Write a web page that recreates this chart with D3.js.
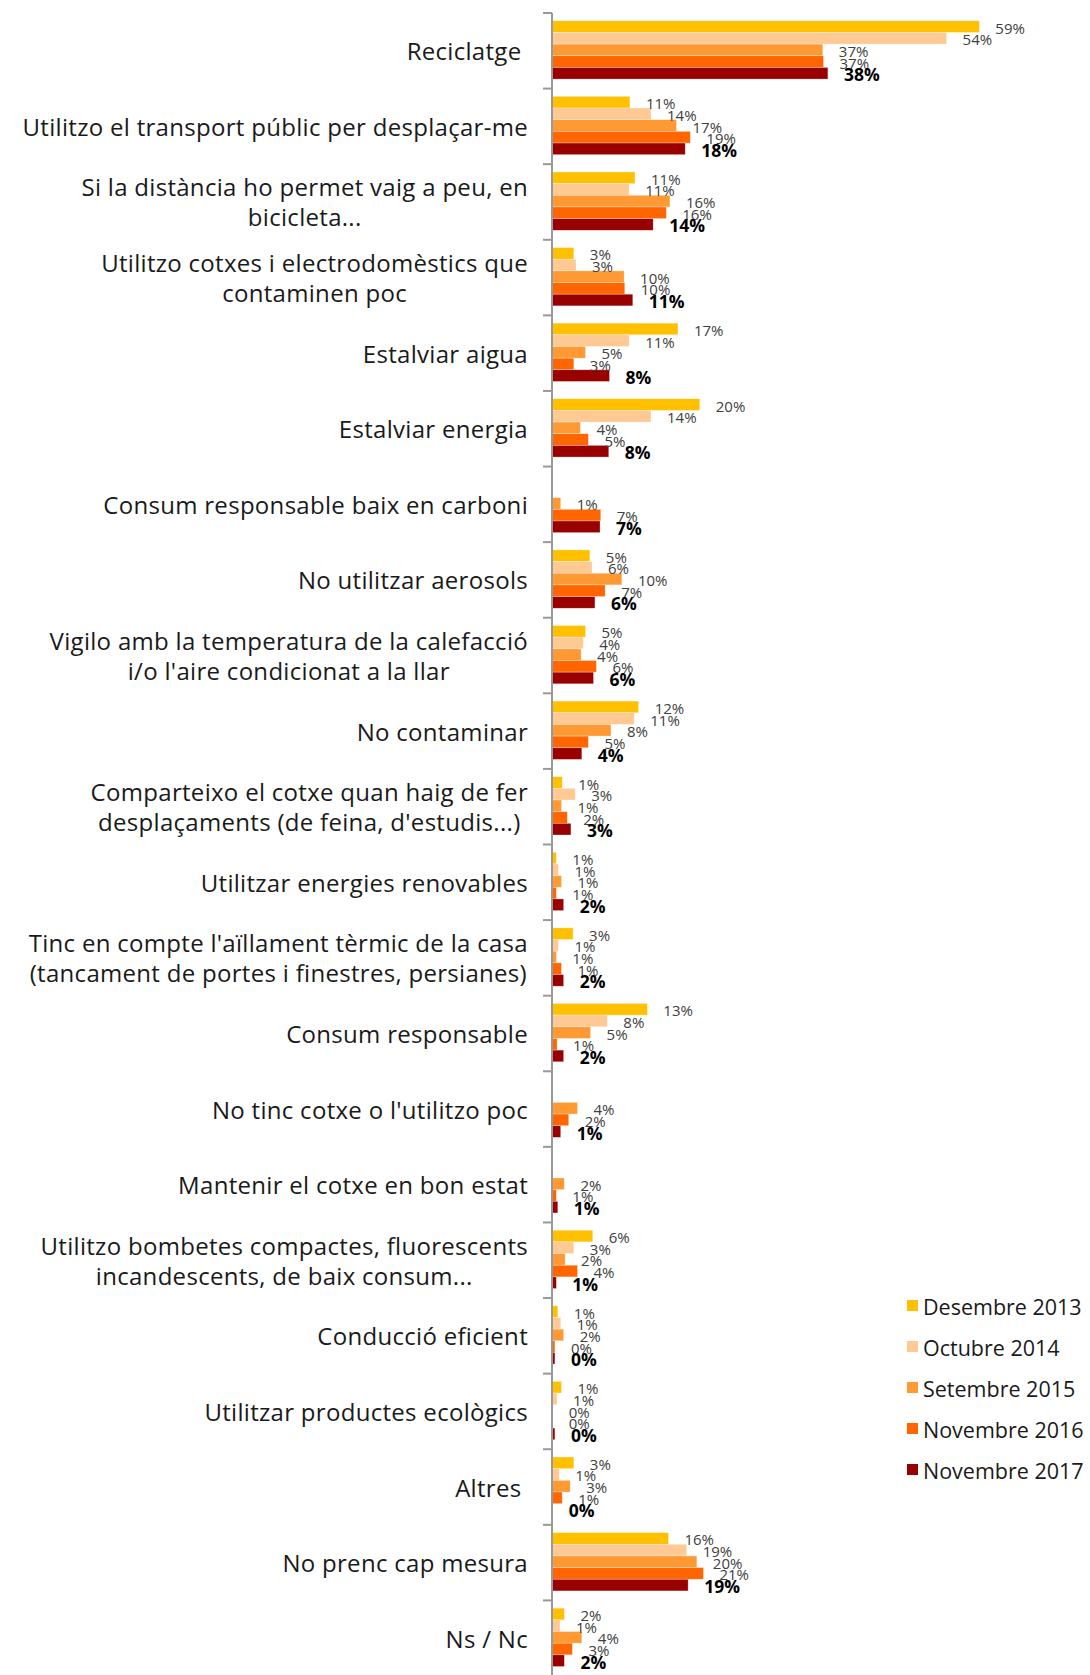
<!DOCTYPE html>
<html>
<head>
<meta charset="utf-8">
<script src="https://cdn.jsdelivr.net/npm/d3@7"></script>
<style>
	body { margin: 0; background: #fff; }
	svg text { font-family: "Century Gothic", "Open Sans", sans-serif; }
</style>
</head>
<body>
<div id="chart-container"></div>
<script>

// categories (line breaks as in the picture)
var categories = [
	"Reciclatge ",
	"Utilitzo el transport públic per desplaçar-me",
	"Si la distància ho permet vaig a peu, en\nbicicleta...",
	"Utilitzo cotxes i electrodomèstics que\ncontaminen poc",
	"Estalviar aigua",
	"Estalviar energia",
	"Consum responsable baix en carboni",
	"No utilitzar aerosols",
	"Vigilo amb la temperatura de la calefacció\ni/o l'aire condicionat a la llar",
	"No contaminar",
	"Comparteixo el cotxe quan haig de fer\ndesplaçaments (de feina, d'estudis...)",
	"Utilitzar energies renovables",
	"Tinc en compte l'aïllament tèrmic de la casa\n(tancament de portes i finestres, persianes)",
	"Consum responsable",
	"No tinc cotxe o l'utilitzo poc",
	"Mantenir el cotxe en bon estat",
	"Utilitzo bombetes compactes, fluorescents\nincandescents, de baix consum...",
	"Conducció eficient",
	"Utilitzar productes ecològics",
	"Altres ",
	"No prenc cap mesura",
	"Ns / Nc"
];

var seriesNames = ["Desembre 2013", "Octubre 2014", "Setembre 2015", "Novembre 2016", "Novembre 2017"];
var seriesColors = ["#ffc000", "#ffc993", "#ff9933", "#ff6600", "#990000"];

// values in %, null = not asked that year
var desembre2013 = [58.7, 10.7, 11.4, 3.0, 17.3, 20.3, null, 5.2, 4.6, 11.9, 1.4, 0.6, 2.9, 13.1, null, null, 5.6, 0.8, 1.3, 3.0, 16.0, 1.7];
var octubre2014  = [54.2, 13.6, 10.6, 3.3, 10.6, 13.6, null, 5.5, 4.3, 11.3, 3.2, 0.9, 0.9, 7.6, null, null, 3.0, 1.2, 0.7, 1.0, 18.5, 1.1];
var setembre2015 = [37.2, 17.1, 16.2, 9.9, 4.6, 3.9, 1.2, 9.6, 4.0, 8.1, 1.3, 1.3, 0.6, 5.3, 3.5, 1.7, 1.8, 1.6, 0.1, 2.5, 19.9, 4.1];
var novembre2016 = [37.3, 19.0, 15.7, 10.0, 3.0, 5.0, 6.7, 7.3, 6.1, 5.0, 2.1, 0.6, 1.3, 0.7, 2.3, 0.6, 3.5, 0.4, 0.1, 1.4, 20.8, 2.8];
var novembre2017 = [37.9, 18.3, 13.9, 11.1, 7.9, 7.8, 6.6, 5.9, 5.7, 4.1, 2.6, 1.6, 1.6, 1.6, 1.2, 0.8, 0.6, 0.4, 0.4, 0.1, 18.7, 1.7];

var seriesValues = [desembre2013, octubre2014, setembre2015, novembre2016, novembre2017];

function whenDocumentLoaded(action) {
	if (document.readyState === "loading") {
		document.addEventListener("DOMContentLoaded", action);
	} else {
		action();
	}
}

whenDocumentLoaded(() => {
	var width = 1090,
		height = 1675,
		axisX = 552,
		labelRight = 528;

	var svg = d3.select("#chart-container").append("svg")
		.attr("width", width)
		.attr("height", height);

	var x = d3.scaleLinear()
		.domain([0, 100])
		.range([axisX, axisX + 728]);

	var y = d3.scaleBand()
		.domain(d3.range(categories.length))
		.range([13, 1676])
		.padding(0);

	var ySeries = d3.scaleBand()
		.domain(d3.range(seriesNames.length))
		.range([0, y.bandwidth()])
		.paddingInner(0)
		.paddingOuter(0.74)
		.align(0.45);

	// bars
	var rows = [];
	categories.forEach(function(c, ci) {
		seriesValues.forEach(function(vals, si) {
			if (vals[ci] !== null) rows.push({cat: ci, s: si, v: vals[ci]});
		});
	});

	svg.append("g").attr("class", "bars")
		.selectAll("rect")
		.data(rows)
		.enter().append("rect")
		.attr("x", x(0))
		.attr("y", d => y(d.cat) + ySeries(d.s))
		.attr("width", d => x(d.v) - x(0))
		.attr("height", ySeries.bandwidth())
		.style("fill", d => seriesColors[d.s])
		.style("stroke", "rgba(255,255,255,0.5)")
		.style("stroke-width", 0.6);

	// value labels
	svg.append("g").attr("class", "values")
		.selectAll("text")
		.data(rows)
		.enter().append("text")
		.attr("x", d => x(d.v) + 16)
		.attr("y", d => y(d.cat) + ySeries(d.s) + ySeries.bandwidth() / 2 + 1)
		.attr("dominant-baseline", "central")
		.style("font-size", d => d.s === 4 ? "17.5px" : "15px")
		.style("font-weight", d => d.s === 4 ? "bold" : "normal")
		.style("fill", d => d.s === 4 ? "#000" : "#404040")
		.text(d => Math.round(d.v) + "%");

	// axis line and ticks at category boundaries
	var axis = svg.append("g").attr("class", "y-axis");
	axis.append("line")
		.attr("x1", axisX).attr("x2", axisX)
		.attr("y1", y.range()[0]).attr("y2", y.range()[1])
		.style("stroke", "#999").style("stroke-width", 2);
	axis.selectAll(".tick")
		.data(d3.range(categories.length + 1))
		.enter().append("line")
		.attr("class", "tick")
		.attr("x1", axisX - 9).attr("x2", axisX)
		.attr("y1", d => d < categories.length ? y(d) : y.range()[1])
		.attr("y2", d => d < categories.length ? y(d) : y.range()[1])
		.style("stroke", "#999").style("stroke-width", 2);

	// category labels: block right aligned, lines centred
	var catLabels = svg.append("g").attr("class", "cat-labels");
	categories.forEach(function(c, ci) {
		var lines = c.split("\n");
		var cy = y(ci) + y.bandwidth() / 2;
		var lineH = 30;
		var g = catLabels.append("g");
		var texts = lines.map(function(line, li) {
			return g.append("text")
				.attr("y", cy + (li - (lines.length - 1) / 2) * lineH)
				.attr("dominant-baseline", "central")
				.attr("text-anchor", "middle")
				.style("white-space", "pre")
				.style("font-size", "24px")
				.style("letter-spacing", "0.3px")
				.style("fill", "#1a1a1a")
				.text(line);
		});
		var maxW = d3.max(texts, t => t.node().getComputedTextLength());
		texts.forEach(t => t.attr("x", labelRight - maxW / 2));
	});

	// legend
	var legend = svg.append("g").attr("class", "legend")
		.selectAll("g")
		.data(seriesNames)
		.enter().append("g")
		.attr("transform", (d, i) => "translate(907," + (1306 + i * 41) + ")");
	legend.append("rect")
		.attr("x", 0).attr("y", -6)
		.attr("width", 11).attr("height", 11)
		.style("fill", (d, i) => seriesColors[i]);
	legend.append("text")
		.attr("x", 16).attr("y", 0)
		.attr("dominant-baseline", "central")
		.style("font-size", "21.5px")
		.style("fill", "#1a1a1a")
		.text(d => d);
});
</script>
</body>
</html>
